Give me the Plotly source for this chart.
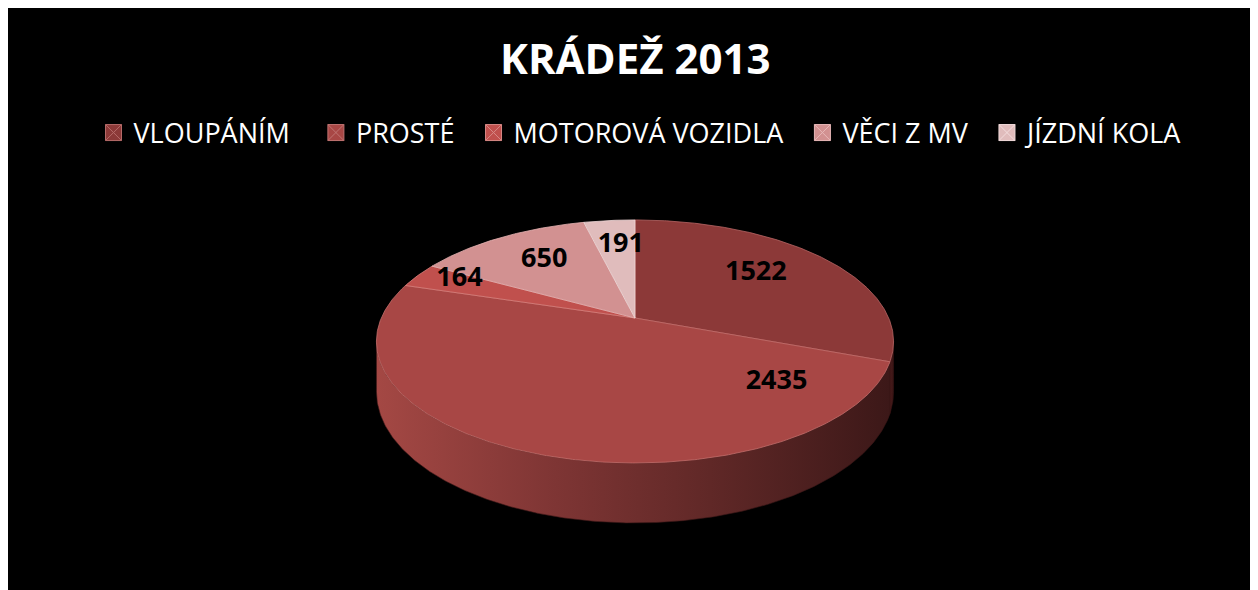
import math
import plotly.graph_objects as go

# ---- data ----
categories = ["VLOUPÁNÍM", "PROSTÉ", "MOTOROVÁ VOZIDLA", "VĚCI Z MV", "JÍZDNÍ KOLA"]
values = [1522, 2435, 164, 650, 191]
title_text = "KRÁDEŽ 2013"

# ---- styles ----
top_colors = ["#8C3938", "#A84745", "#C0504D", "#D29191", "#E0BCBC"]
edge_colors = ["#B86664", "#C46F6C", "#D9817E", "#E6B3B3", "#F0D8D8"]
marker_lines = ["#B56A68", "#C07472", "#D88986", "#E8B8B8", "#F3DCDC"]
side_scales = [
    [[0, "#4A1C1C"], [1, "#381414"]],
    [[0, "#A44844"], [0.35, "#7E3534"], [0.65, "#602827"], [1, "#3C1818"]],
    [[0, "#8E3E3C"], [1, "#5E2826"]],
    [[0, "#9E6868"], [1, "#6E4646"]],
    [[0, "#A88888"], [1, "#7A6060"]],
]
label_radius = [0.66, 0.71, 0.82, 0.67, 0.71]
label_angle_shift = [-4.0, -64.0, 2.6, 1.3, 1.8]
legend_pad = [3, 2, 2, 2, 0]  # trailing no-break spaces after legend names
FONT = "Open Sans"

# figure placement in page pixels (page has an 8px body margin)
OFF = 8
FIG_W, FIG_H = 1250, 590

# projected disk geometry (page pixel units)
CX, CY = 635.0, 318.0
RA, RB = 253.7, 117.0
K = 0.193
DEPTH = 48.4


def proj(theta_deg, f=1.0, drop=0.0):
    t = math.radians(theta_deg)
    u = f * math.sin(t)
    v = f * math.cos(t)
    w = 1.0 + K * v
    return CX + RA * u / w, CY - RB * v / w + DEPTH * drop / w


def arc(t0, t1, drop=0.0, step=0.5):
    n = max(2, int(abs(t1 - t0) / step) + 1)
    pts = [proj(t0 + (t1 - t0) * i / (n - 1), 1.0, drop) for i in range(n)]
    return [p[0] for p in pts], [p[1] for p in pts]


total = float(sum(values))
starts, ends = [], []
acc = 0.0
for v in values:
    starts.append(acc / total * 360.0)
    acc += v
    ends.append(acc / total * 360.0)

# silhouette extremes of the projected rim
vside = -K / (1 - K * K)
vv = vside / (1 - K * vside)
uu = math.sqrt(max(0.0, 1 - vv * vv))
theta_right = math.degrees(math.atan2(uu, vv))
theta_left = 360.0 - theta_right

fig = go.Figure()

# side walls (front half only)
for i in range(len(values)):
    a0 = max(starts[i], theta_right)
    a1 = min(ends[i], theta_left)
    if a1 <= a0:
        continue
    xt, yt = arc(a0, a1, 0.0)
    xb, yb = arc(a0, a1, 1.0)
    xs = xt + xb[::-1] + [xt[0]]
    ys = yt + yb[::-1] + [yt[0]]
    fig.add_trace(go.Scatter(
        x=xs, y=ys, mode="lines", fill="toself",
        line=dict(width=0.6, color=side_scales[i][-1][1]),
        fillgradient=dict(type="horizontal", colorscale=side_scales[i]),
        hoverinfo="skip", showlegend=False))

# top surfaces
for i in range(len(values)):
    xa, ya = arc(starts[i], ends[i], 0.0)
    xs = [CX] + xa + [CX]
    ys = [CY] + ya + [CY]
    fig.add_trace(go.Scatter(
        x=xs, y=ys, mode="lines", fill="toself", fillcolor=top_colors[i],
        line=dict(width=0.8, color=edge_colors[i]),
        hoverinfo="skip", showlegend=False))

# data labels
for i in range(len(values)):
    mid = (starts[i] + ends[i]) / 2.0 + label_angle_shift[i]
    lx, ly = proj(mid, label_radius[i])
    fig.add_trace(go.Scatter(
        x=[lx], y=[ly], mode="text", text=[str(values[i])],
        textfont=dict(family=FONT, size=27, color="black", weight="bold"),
        textposition="middle center", hoverinfo="skip", showlegend=False))

# legend entries
for i, c in enumerate(categories):
    fig.add_trace(go.Scatter(
        x=[None], y=[None], mode="markers", name=c + "\u00a0" * legend_pad[i],
        marker=dict(symbol="square-x", size=16, color=top_colors[i],
                    line=dict(color=marker_lines[i], width=1)),
        showlegend=True))

fig.add_annotation(
    x=635, y=57, xref="x", yref="y", text="<b>" + title_text + "</b>",
    showarrow=False, font=dict(family=FONT, size=42, color="white"),
    xanchor="center", yanchor="middle")

fig.update_layout(
    width=FIG_W, height=FIG_H,
    margin=dict(l=0, r=0, t=0, b=0),
    paper_bgcolor="black", plot_bgcolor="black",
    xaxis=dict(range=[OFF, OFF + FIG_W], visible=False, fixedrange=True),
    yaxis=dict(range=[OFF + FIG_H, OFF], visible=False, fixedrange=True),
    showlegend=True,
    legend=dict(orientation="h", x=(641.5 - OFF) / FIG_W, xanchor="center",
                y=1 - (133 - OFF) / float(FIG_H), yanchor="middle",
                font=dict(family=FONT, size=27, color="white"),
                bgcolor="rgba(0,0,0,0)", itemclick=False, itemdoubleclick=False),
)

fig.write_html("out.html")
